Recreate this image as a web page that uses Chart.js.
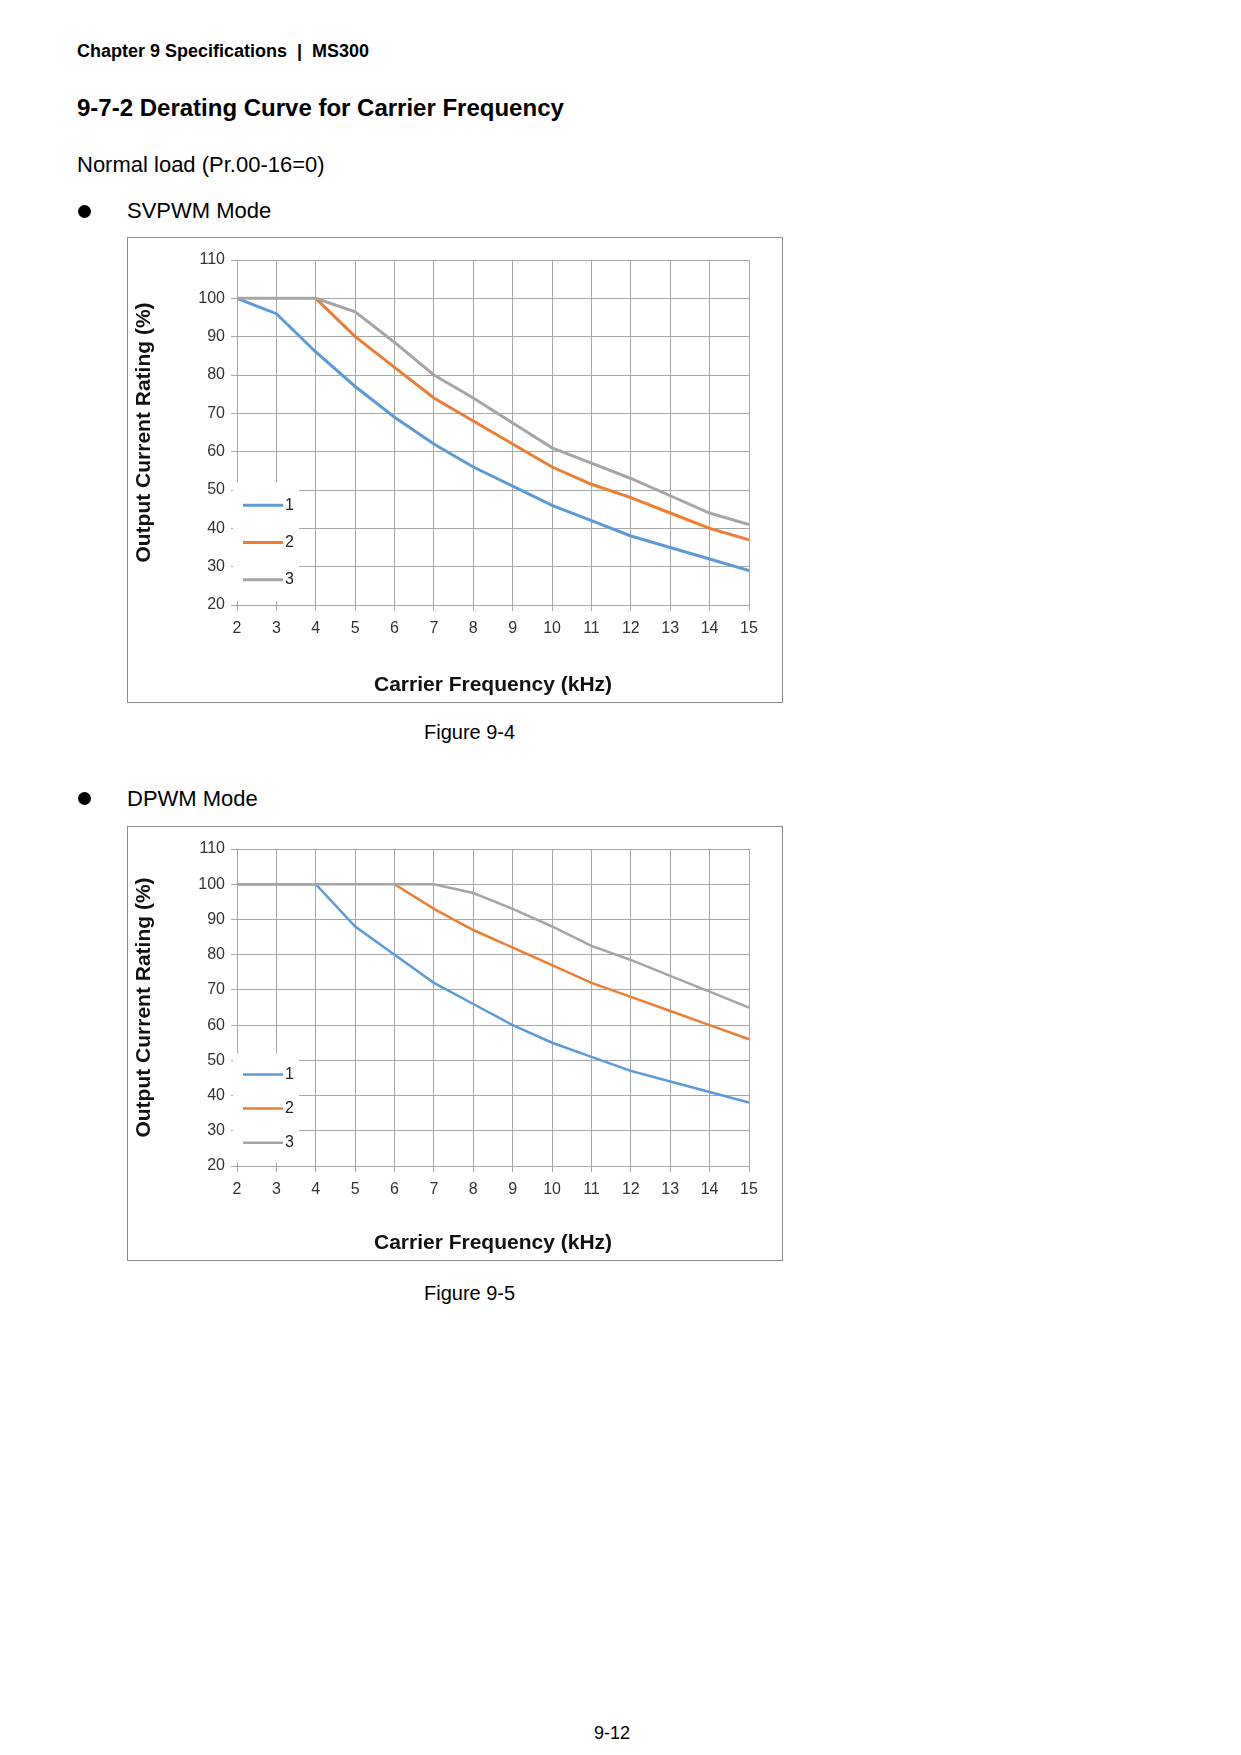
<!DOCTYPE html>
<html lang="en">
<head>
<meta charset="UTF-8">
<title>Derating Curve for Carrier Frequency</title>
<script src="https://cdn.jsdelivr.net/npm/chart.js"></script>
<style>
  body { margin:0; width:1241px; height:1755px; background:#fff; font-family:"Liberation Sans", Arial, sans-serif; color:#000; position:relative; }
  .abs { position:absolute; white-space:nowrap; }
  .box { position:absolute; left:127px; width:654px; border:1px solid #8c8c8c; background:#fff; }
  .box canvas { display:block; }
  .dot { position:absolute; left:78px; width:13px; height:13px; border-radius:50%; background:#000; }
</style>
</head>
<body>
  <div class="abs" style="left:77px; top:41px; font-size:18px; font-weight:bold;">Chapter 9 Specifications &nbsp;|&nbsp; MS300</div>
  <div class="abs" style="left:77px; top:94px; font-size:24px; font-weight:bold;">9-7-2 Derating Curve for Carrier Frequency</div>
  <div class="abs" style="left:77px; top:152px; font-size:22px;">Normal load (Pr.00-16=0)</div>
  <div class="dot" style="top:205px;"></div>
  <div class="abs" style="left:127px; top:198px; font-size:22px;">SVPWM Mode</div>
  <div class="box" style="top:237px; height:464px;"><canvas id="svpwm" width="654" height="464"></canvas></div>
  <div class="abs" style="left:424px; top:721px; font-size:20px;">Figure 9-4</div>

  <div class="dot" style="top:792px;"></div>
  <div class="abs" style="left:127px; top:786px; font-size:22px;">DPWM Mode</div>
  <div class="box" style="top:826px; height:433px;"><canvas id="dpwm" width="654" height="433"></canvas></div>
  <div class="abs" style="left:424px; top:1282px; font-size:20px;">Figure 9-5</div>

  <div class="abs" style="left:594px; top:1723px; font-size:18px;">9-12</div>

<script>
const freqs = [2, 3, 4, 5, 6, 7, 8, 9, 10, 11, 12, 13, 14, 15];
const colors = ['#5b9bd5', '#ed7d31', '#a5a5a5'];

const svpwmData = {
    '1': [100, 96, 86, 77, 69, 62, 56, 51, 46, 42, 38, 35, 32, 29],
    '2': [null, null, 100, 90, 82, 74, 68, 62, 56, 51.5, 48, 44, 40, 37],
    '3': [100, 100, 100, 96.5, 88.5, 80, 74, 67.5, 61, 57, 53, 48.5, 44, 41]
};
const dpwmData = {
    '1': [100, 100, 100, 88, 80, 72, 66, 60, 55, 51, 47, 44, 41, 38],
    '2': [null, null, null, null, 100, 93, 87, 82, 77, 72, 68, 64, 60, 56],
    '3': [100, 100, 100, 100, 100, 100, 97.5, 93, 88, 82.5, 78.5, 74, 69.5, 65]
};

// legend drawn inside the plot on a white patch, like the original
function legendPlugin(lineW) {
    return {
        id: 'insideLegend',
        afterDraw(chart) {
            const ctx = chart.ctx;
            const area = chart.chartArea;
            const yS = chart.scales.y;
            const top = yS.getPixelForValue(52), bottom = yS.getPixelForValue(21);
            ctx.save();
            ctx.fillStyle = '#fff';
            ctx.fillRect(area.left - 4, top, 66, bottom - top);
            const step = (yS.getPixelForValue(40) - yS.getPixelForValue(50)) * 0.97;
            const y0 = yS.getPixelForValue(46);
            chart.data.datasets.forEach((ds, i) => {
                const y = y0 + i * step;
                ctx.strokeStyle = ds.borderColor;
                ctx.lineWidth = lineW;
                ctx.beginPath();
                ctx.moveTo(area.left + 6, y);
                ctx.lineTo(area.left + 46, y);
                ctx.stroke();
                ctx.fillStyle = '#222';
                ctx.font = '16px "Liberation Sans", Arial';
                ctx.textBaseline = 'middle';
                ctx.fillText(ds.label, area.left + 48, y);
            });
            ctx.restore();
        }
    };
}

function makeChart(id, data, lineW, xHeight) {
    const ctx = document.getElementById(id).getContext('2d');
    return new Chart(ctx, {
        type: 'line',
        data: {
            labels: freqs,
            datasets: Object.keys(data).map((k, i) => ({
                label: k,
                data: freqs.map((f, j) => ({ x: f, y: data[k][j] })),
                borderColor: colors[i],
                backgroundColor: colors[i],
                borderWidth: lineW,
                pointRadius: 0,
                tension: 0,
                spanGaps: false,
                order: 3 - i
            }))
        },
        options: {
            responsive: false,
            animation: false,
            layout: { padding: { top: 22, right: 33, left: 0, bottom: 0 } },
            plugins: { legend: { display: false }, tooltip: { enabled: false } },
            scales: {
                x: {
                    type: 'linear', min: 2, max: 15,
                    ticks: { stepSize: 1, color: '#333', font: { size: 16, family: '"Liberation Sans", Arial' }, padding: 8 },
                    grid: { color: '#a6a6a6', tickLength: 6 },
                    border: { color: '#a6a6a6' },
                    title: { display: true, text: 'Carrier Frequency (kHz)', color: '#111', font: { size: 21, weight: 'bold', family: '"Liberation Sans", Arial' }, padding: { top: 4 } },
                    afterFit(s) { s.height = xHeight; }
                },
                y: {
                    min: 20, max: 110,
                    ticks: { stepSize: 10, color: '#333', font: { size: 16, family: '"Liberation Sans", Arial' }, padding: 6 },
                    grid: { color: '#a6a6a6', tickLength: 6 },
                    border: { color: '#a6a6a6' },
                    title: { display: true, text: 'Output Current Rating (%)', color: '#111', font: { size: 21, weight: 'bold', family: '"Liberation Sans", Arial' }, padding: { bottom: 4 } },
                    afterFit(s) { s.width = 109; }
                }
            }
        },
        plugins: [legendPlugin(lineW)]
    });
}

makeChart('svpwm', svpwmData, 3, 97);
makeChart('dpwm', dpwmData, 2.5, 94);
</script>
</body>
</html>
